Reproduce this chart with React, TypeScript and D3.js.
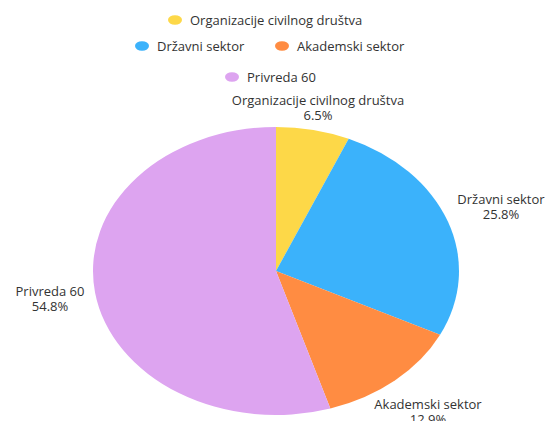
import React from "react";
import * as d3 from "d3";

const categories = ["Organizacije civilnog društva", "Državni sektor", "Akademski sektor", "Privreda 60"];
const values = [6.5, 25.8, 12.9, 54.8];
const colors = ["#FDD848", "#3BB2FB", "#FF8C42", "#DDA4F0"];

const W = 547, H = 421;
const cx = 276, cy = 271, rx = 183, ry = 144;
const font = "'Open Sans', sans-serif";
const textColor = "#333";
const fs = 13;

export default function App() {
  const pie = d3.pie<number>().sort(null).value((d) => d);
  const arcs = pie(values);
  const arcGen = d3.arc<d3.PieArcDatum<number>>().innerRadius(0).outerRadius(ry);

  const labelPos: { x: number; y: number }[] = [
    { x: 318, y: 105 },
    { x: 501, y: 204 },
    { x: 428, y: 409 },
    { x: 50, y: 296 },
  ];

  const legendItems = [
    { i: 0, x: 175, y: 20 },
    { i: 1, x: 142, y: 46 },
    { i: 2, x: 282, y: 46 },
    { i: 3, x: 232, y: 77 },
  ];

  return (
    <svg width={W} height={H} style={{ position: "absolute", left: 0, top: 0, background: "#fff" }}>
      <g transform={`translate(${cx},${cy}) scale(${rx / ry},1)`}>
        {arcs.map((a, i) => (
          <path key={i} d={arcGen(a) || ""} fill={colors[i]} stroke="none" />
        ))}
      </g>
      {legendItems.map(({ i, x, y }) => (
        <g key={i}>
          <ellipse cx={x} cy={y} rx={7} ry={4.8} fill={colors[i]} />
          <text x={x + 15} y={y + 4.5} fontFamily={font} fontSize={fs} fill={textColor}>
            {categories[i]}
          </text>
        </g>
      ))}
      {labelPos.map((p, i) => (
        <g key={i}>
          <text x={p.x} y={p.y} textAnchor="middle" fontFamily={font} fontSize={fs} fill={textColor}>
            {categories[i]}
          </text>
          <text x={p.x} y={p.y + 15} textAnchor="middle" fontFamily={font} fontSize={fs} fill={textColor}>
            {values[i].toFixed(1)}%
          </text>
        </g>
      ))}
    </svg>
  );
}
